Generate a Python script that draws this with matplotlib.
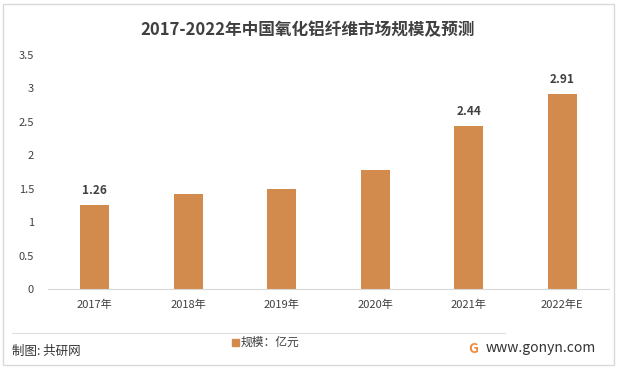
import matplotlib.pyplot as plt
from matplotlib.patches import Rectangle

plt.rcParams['font.family'] = ['Noto Sans CJK SC', 'DejaVu Sans']

# 数据
years = ['2017年', '2018年', '2019年', '2020年', '2021年', '2022年E']
scale = [1.26, 1.42, 1.50, 1.78, 2.44, 2.91]
labels = ['1.26', '', '', '', '2.44', '2.91']
yticks = [0, 0.5, 1, 1.5, 2, 2.5, 3, 3.5]

bar_color = '#D38B4D'
text_color = '#404040'

fig = plt.figure(figsize=(6.17, 3.68), dpi=100)
W, H = 617, 368

# cornice esterna
fig.patches.append(Rectangle((3 / W, 3 / H), 611 / W, 361 / H, transform=fig.transFigure,
                             fill=False, edgecolor='#D9D9D9', linewidth=1))

ax = fig.add_axes([48 / W, 1 - 289 / H, 561 / W, 234 / H])
x = range(len(years))
ax.bar(x, scale, width=0.31, color=bar_color, zorder=2)
for i, (v, t) in enumerate(zip(scale, labels)):
    if t:
        ax.text(i, v + 0.12, t, ha='center', va='bottom', fontsize=8.5,
                fontweight='bold', color=text_color)

ax.set_xlim(-0.5, len(years) - 0.5)
ax.set_ylim(0, 3.5)
ax.set_yticks(yticks)
ax.set_yticklabels(['0', '0.5', '1', '1.5', '2', '2.5', '3', '3.5'])
ax.set_xticks(list(x))
ax.set_xticklabels(years)
ax.tick_params(axis='both', length=0, labelsize=8, colors=text_color)
ax.tick_params(axis='x', pad=8)
ax.tick_params(axis='y', pad=10)
for s in ['top', 'right', 'left']:
    ax.spines[s].set_visible(False)
ax.spines['bottom'].set_color('#D9D9D9')

# titolo
fig.text(308 / W, 1 - 30 / H, '2017-2022年中国氧化铝纤维市场规模及预测', ha='center', va='center',
         fontsize=12, fontweight='bold', color=text_color)

# separatore e piè di pagina
fig.add_artist(plt.Line2D([12 / W, 505 / W], [1 - 333 / H, 1 - 333 / H], transform=fig.transFigure,
                          color='#E0E0E0', linewidth=0.8))
fig.text(12 / W, 1 - 351 / H, '制图: 共研网', ha='left', va='center', fontsize=9, color='#333333')
fig.patches.append(Rectangle((232 / W, 1 - 346 / H), 7 / W, 7 / H, transform=fig.transFigure,
                             color=bar_color))
fig.text(241 / W, 1 - 342 / H, '规模：亿元', ha='left', va='center', fontsize=8.5, color=text_color)
fig.text(473 / W, 1 - 349 / H, 'G', ha='center', va='center', fontsize=10, fontweight='bold',
         color='#F08A3C')
fig.text(486 / W, 1 - 348 / H, 'www.gonyn.com', ha='left', va='center', fontsize=10, color='#333333')

fig.savefig('out.png', dpi=100)
